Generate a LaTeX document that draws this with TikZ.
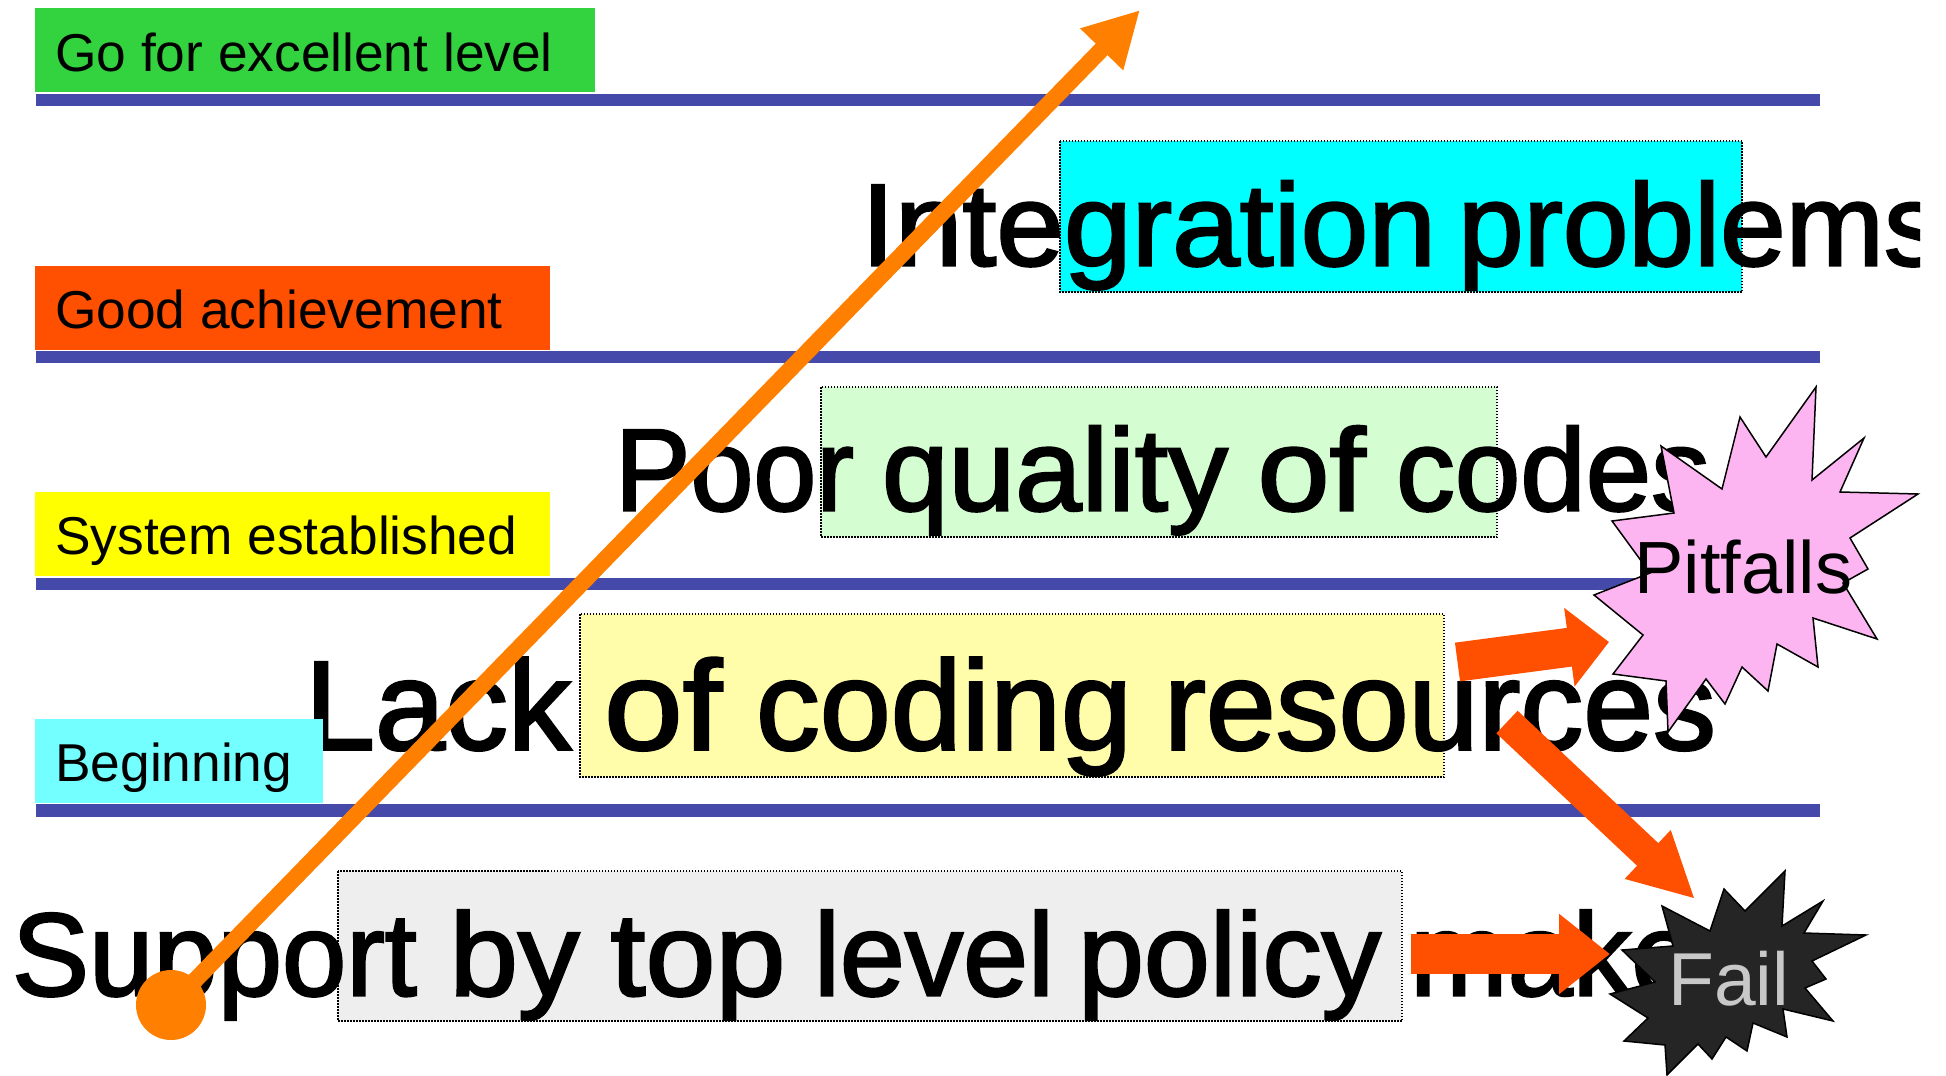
\documentclass[tikz,border=0pt]{standalone}
\usepackage{graphicx}
\usepackage{fontspec}
\setmainfont{Liberation Sans}
\newfontface\bigface[FakeBold=2]{Liberation Sans}
\usetikzlibrary{arrows.meta}
\definecolor{rulecol}{HTML}{4549A9}
\definecolor{orangeA}{HTML}{FF8000}
\definecolor{redA}{HTML}{FF4F00}
\definecolor{cyanbox}{HTML}{00FFFF}
\definecolor{greenbox}{HTML}{D5FDD2}
\definecolor{yellowbox}{HTML}{FFFCAA}
\definecolor{greybox}{HTML}{EEEEEE}
\definecolor{labgreen}{HTML}{33D33F}
\definecolor{labyellow}{HTML}{FFFF00}
\definecolor{labcyan}{HTML}{73FFFF}
\definecolor{pitc}{HTML}{FCB5F0}
\definecolor{failc}{HTML}{252525}
\definecolor{failtext}{HTML}{C8C8C8}
\newcommand{\wrd}[2]{\resizebox{#1pt}{\height}{#2}}
\newcommand{\gp}[1]{\hspace{#1pt}}
\tikzset{
  bigtext/.style={anchor=base west,inner sep=0pt,outer sep=0pt},
  labeltext/.style={anchor=base west,inner sep=0pt,font=\fontsize{53.3}{53.3}\selectfont},
  hbox/.style={draw=black,line width=1.5pt,dash pattern=on 1.5pt off 1.5pt},
  levelrule/.style={rulecol,line width=12.3pt},
  redarrow/.style={redA,line width=40pt},
  burst/.style={draw=black,line width=1.5pt,line join=miter}
}
\begin{document}
\begin{tikzpicture}[x=1pt,y=-1pt]
\useasboundingbox (0,0) rectangle (1946,1076);
% highlight boxes
\path[hbox,fill=cyanbox] (1060,141) rectangle (1742,292);
\path[hbox,fill=greenbox] (821,387) rectangle (1497,537);
\path[hbox,fill=yellowbox] (580,614) rectangle (1444,777);
\path[hbox,fill=greybox] (338,871) rectangle (1402,1021);
% rules
\coordinate (r1a) at (35.5,100); \coordinate (r1b) at (1820,100);
\coordinate (r2a) at (35.5,357); \coordinate (r2b) at (1820,357);
\coordinate (r3a) at (35.5,584); \coordinate (r3b) at (1820,584);
\coordinate (r4a) at (35.5,810.5); \coordinate (r4b) at (1820,810.5);
\draw[levelrule] (r1a) -- (r1b);
\draw[levelrule] (r2a) -- (r2b);
\draw[levelrule] (r3a) -- (r3b);
\draw[levelrule] (r4a) -- (r4b);
% big texts
\begin{scope}
\clip (0,0) rectangle (1920,1076);
\node[bigtext,font=\bigface\fontsize{117}{117}\selectfont] (t1) at (861,265.5)
  {\wrd{575}{Integration}\gp{22}\wrd{485}{problems}};
\end{scope}
\node[bigtext,font=\bigface\fontsize{117}{117}\selectfont] (t2) at (615,510.5)
  {\wrd{239}{Poor}\gp{28}\wrd{346}{quality}\gp{29.5}\wrd{108}{of}\gp{30.5}\wrd{314}{codes}};
\node[bigtext,font=\bigface\fontsize{127}{127}\selectfont] (t3) at (305,749.5)
  {\wrd{266}{Lack}\gp{33}\wrd{118}{of}\gp{34}\wrd{376}{coding}\gp{32}\wrd{552}{resources}};
\node[bigtext,font=\bigface\fontsize{118}{118}\selectfont] (t4) at (12,995.5)
  {\wrd{405}{Support}\gp{32.5}\wrd{130}{by}\gp{31}\wrd{175}{top}\gp{28.5}\wrd{240}{level}\gp{24}\wrd{303}{policy}\gp{29}\wrd{345}{makes}};
% level labels
\fill[labgreen] (35,8) rectangle (595,92);
\node[labeltext] (l1) at (55,71) {Go for excellent level};
\fill[redA] (35,266) rectangle (550,350);
\node[labeltext] (l2) at (55,328) {Good achievement};
\fill[labyellow] (35,492) rectangle (550,576);
\node[labeltext] (l3) at (55,554) {System established};
\fill[labcyan] (35,719) rectangle (323,803);
\node[labeltext] (l4) at (55,781) {Beginning};
% orange arrow
\node[circle,fill=orangeA,minimum size=70pt,inner sep=0pt] (start) at (171,1005) {};
\coordinate (tip) at (1140,10);
\draw[orangeA,line width=16.5pt,-{Triangle[length=55pt,width=56pt]}] (start.center) -- (tip);
% bursts
\draw[burst,fill=pitc]
 (1816,387)--(1812,480)--(1864,438)--(1840,492)--(1918,494)--(1850,538)--(1868,569)--(1843,583)--(1877,639)--(1813,618)--(1818,667)--(1777,644)--(1768,691)--(1742,667)--(1725,704)--(1706,679)--(1668,732)--(1666,681)--(1613,674)--(1643,635)--(1594,595)--(1650,573)--(1612,521)--(1674,513)--(1661,446)--(1722,489)--(1740,417)--(1766,457)--cycle;
\node[inner sep=0pt,anchor=base west,font=\fontsize{74}{74}\selectfont] (pit) at (1634,593) {Pitfalls};
\draw[burst,fill=failc]
 (1785,871)--(1782,926)--(1823,901)--(1804,933)--(1866,935)--(1812,961)--(1826,979)--(1805,988)--(1833,1021)--(1783,1009)--(1787,1037)--(1753,1023)--(1747,1051)--(1726,1037)--(1712,1059)--(1698,1044)--(1667,1075)--(1665,1045)--(1624,1041)--(1648,1018)--(1610,994)--(1655,982)--(1622,950)--(1673,946)--(1662,906)--(1710,931)--(1724,889)--(1745,911)--cycle;
\node[inner sep=0pt,anchor=base west,text=failtext,font=\fontsize{75}{75}\selectfont] (fail) at (1668,1005) {Fail};
% red arrows
\coordinate (a1s) at (1457.5,662); \coordinate (a1e) at (1609,642);
\coordinate (a2s) at (1507,722); \coordinate (a2e) at (1695,899);
\coordinate (a3s) at (1411,954); \coordinate (a3e) at (1610,954);
\draw[redarrow,line width=39pt,-{Triangle[length=40pt,width=77pt]}] (a1s) -- (a1e);
\draw[redarrow,line width=31pt,-{Triangle[length=65pt,width=62pt]}] (a2s) -- (a2e);
\draw[redarrow,-{Triangle[length=51pt,width=77pt]}] (a3s) -- (a3e);
\end{tikzpicture}
\end{document}
